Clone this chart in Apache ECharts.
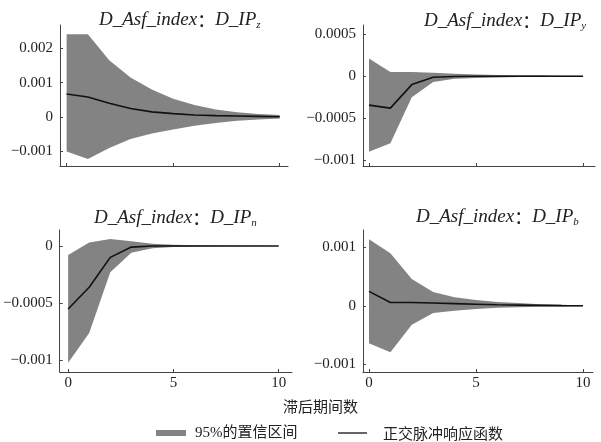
<!DOCTYPE html>
<html>
<head>
<meta charset="utf-8">
<script src="https://cdn.jsdelivr.net/npm/echarts@6/dist/echarts.min.js"></script>
<style>
  html, body { margin: 0; padding: 0; background: #fff; }
  #chart { width: 601px; height: 442px; }
</style>
</head>
<body>
<div id="chart"></div>
<script>
// ---------- data ----------
const steps = [0, 1, 2, 3, 4, 5, 6, 7, 8, 9, 10];

const zUpper = [0.0024, 0.0024, 0.00165, 0.00115, 0.0008, 0.00053, 0.00035, 0.00022, 0.00014, 0.00009, 0.00006];
const zLower = [-0.001, -0.00122, -0.0009, -0.00064, -0.00048, -0.00036, -0.00025, -0.00017, -0.00011, -0.00007, -0.00004];
const zIrf   = [0.00067, 0.00058, 0.0004, 0.00025, 0.00015, 0.0001, 0.00006, 0.00004, 0.00003, 0.00002, 0.00001];

const yUpper = [0.00021, 0.00005, 0.00005, 0.00004, 0.00003, 0.00002, 0.000015, 0.00001, 0.00001, 0.000005, 0.000005];
const yLower = [-0.0009, -0.0008, -0.00025, -0.00007, -0.00003, -0.00002, -0.000015, -0.00001, -0.00001, -0.000005, -0.000005];
const yIrf   = [-0.000345, -0.00038, -0.0001, -0.000012, -0.000004, 0, 0, 0, 0, 0, 0];

const nUpper = [-0.00008, 0.00003, 0.00006, 0.00004, 0.00002, 0.00001, 0.000005, 0.000003, 0.000002, 0.000001, 0];
const nLower = [-0.00102, -0.00076, -0.00023, -0.00006, -0.00002, -0.00001, -0.000005, -0.000003, -0.000002, -0.000001, 0];
const nIrf   = [-0.00055, -0.00036, -0.0001, -0.00001, 0, 0, 0, 0, 0, 0, 0];

const bUpper = [0.00114, 0.0009, 0.00046, 0.00024, 0.00015, 0.0001, 0.00007, 0.00005, 0.00003, 0.00002, 0.00001];
const bLower = [-0.00064, -0.00079, -0.00032, -0.00012, -0.00008, -0.00005, -0.00003, -0.00002, -0.000015, -0.00001, -0.000005];
const bIrf   = [0.00025, 0.00006, 0.00006, 0.00005, 0.00004, 0.00003, 0.00002, 0.000015, 0.00001, 0.000005, 0.000003];

const zTicks = [-0.001, 0, 0.001, 0.002];
const yTicks = [-0.001, -0.0005, 0, 0.0005];
const nTicks = [-0.001, -0.0005, 0];
const bTicks = [-0.001, 0, 0.001];
const xTicks = [0, 5, 10];

const titleLeft = 'D_Asf_index';
const titleColon = '：';
const titleRight = 'D_IP';
const subs = ['z', 'y', 'n', 'b'];
const xAxisTitle = '滞后期间数';
const bandName = '95%的置信区间';
const lineName = '正交脉冲响应函数';

// ---------- layout ----------
const panels = [
  { up: zUpper, lo: zLower, irf: zIrf, ticks: zTicks, grid: { left: 60, top: 25, width: 228, height: 141 }, xr: [-0.31, 10.39], yr: [-0.00142, 0.00267], labels: false, title: { left: 99, top: 9 } },
  { up: yUpper, lo: yLower, irf: yIrf, ticks: yTicks, grid: { left: 363, top: 25, width: 232, height: 141 }, xr: [-0.28, 10.56], yr: [-0.00107, 0.00061], labels: false, title: { left: 424, top: 10 } },
  { up: nUpper, lo: nLower, irf: nIrf, ticks: nTicks, grid: { left: 57, top: 230, width: 235, height: 142 }, xr: [-0.4, 10.63], yr: [-0.0011, 0.000139], labels: true, title: { left: 94, top: 207 } },
  { up: bUpper, lo: bLower, irf: bIrf, ticks: bTicks, grid: { left: 363, top: 230, width: 230, height: 142 }, xr: [-0.28, 10.47], yr: [-0.00113, 0.0013], labels: true, title: { left: 416, top: 206 } }
];

const serif = '"Liberation Serif", "Times New Roman", serif';
const cjk = '"Noto Sans CJK SC", sans-serif';
const txt = '#222';
const axisCol = '#444';
const bandCol = '#838383';

const fmt = v => (v === 0 ? '0' : String(v).replace('-', '\u2212'));

const option = {
  animation: false,
  backgroundColor: '#fff',
  grid: [], xAxis: [], yAxis: [], series: [], title: [],
  legend: [
    {
      left: 156, top: 424, padding: 0, icon: 'rect', itemWidth: 30, itemHeight: 6,
      data: [bandName], selectedMode: false,
      textStyle: { fontFamily: serif + ',' + cjk, fontSize: 15, color: txt, lineHeight: 18, padding: [0, 0, 0, 4] }
    },
    {
      left: 338, top: 424, padding: 0, icon: 'rect', itemWidth: 29, itemHeight: 1.3,
      data: [lineName], selectedMode: false,
      textStyle: { fontFamily: cjk, fontSize: 15, color: txt, lineHeight: 18, padding: [0, 0, 0, 11] }
    }
  ],
  graphic: [
    { type: 'text', left: 283, top: 399, style: { text: xAxisTitle, fontFamily: cjk, fontSize: 15, fill: txt } }
  ]
};

panels.forEach((p, i) => {
  option.grid.push(Object.assign({ containLabel: false }, p.grid));
  option.title.push({
    left: p.title.left, top: p.title.top, padding: 0,
    text: '{a|' + titleLeft + '}{c|' + titleColon + '}{a|' + titleRight + '}{s|' + subs[i] + '}',
    textStyle: {
      fontWeight: 'normal',
      rich: {
        a: { fontFamily: serif, fontStyle: 'italic', fontWeight: 'normal', fontSize: 19, lineHeight: 22, color: txt },
        c: { fontFamily: cjk, fontWeight: 'normal', fontSize: 18, lineHeight: 22, color: txt },
        s: { fontFamily: serif, fontStyle: 'italic', fontWeight: 'normal', fontSize: 11, lineHeight: 11, verticalAlign: 'bottom', color: txt }
      }
    }
  });
  option.xAxis.push({
    type: 'value', gridIndex: i, min: p.xr[0], max: p.xr[1],
    axisLine: { onZero: false, lineStyle: { color: axisCol, width: 1 } },
    axisTick: { show: true, inside: true, length: 3, customValues: xTicks, lineStyle: { color: axisCol } },
    axisLabel: { show: p.labels, customValues: xTicks, margin: 4, fontFamily: serif, fontSize: 15, color: txt },
    splitLine: { show: false }
  });
  option.yAxis.push({
    type: 'value', gridIndex: i, min: p.yr[0], max: p.yr[1],
    axisLine: { show: true, onZero: false, lineStyle: { color: axisCol, width: 1 } },
    axisTick: { show: true, inside: true, length: 3, customValues: p.ticks, lineStyle: { color: axisCol } },
    axisLabel: { customValues: p.ticks, margin: 7, fontFamily: serif, fontSize: 15, color: txt, formatter: fmt },
    splitLine: { show: false }
  });
  const up = p.up, lo = p.lo;
  option.series.push({
    type: 'custom', name: bandName, xAxisIndex: i, yAxisIndex: i,
    itemStyle: { color: bandCol },
    data: steps.map((s, k) => [s, lo[k], up[k]]),
    encode: { x: 0, y: [1, 2] },
    renderItem: function (params, api) {
      if (params.dataIndex !== 0) return null;
      const pts = [];
      for (let k = 0; k < steps.length; k++) pts.push(api.coord([steps[k], up[k]]));
      for (let k = steps.length - 1; k >= 0; k--) pts.push(api.coord([steps[k], lo[k]]));
      return { type: 'polygon', shape: { points: pts }, style: { fill: bandCol } };
    },
    z: 1
  });
  option.series.push({
    type: 'line', name: lineName, xAxisIndex: i, yAxisIndex: i,
    data: steps.map((s, k) => [s, p.irf[k]]),
    symbol: 'none', itemStyle: { color: '#111' },
    lineStyle: { color: '#111', width: 1.6 },
    z: 3
  });
});

const chart = echarts.init(document.getElementById('chart'), null, { renderer: 'canvas' });
chart.setOption(option);
</script>
</body>
</html>
